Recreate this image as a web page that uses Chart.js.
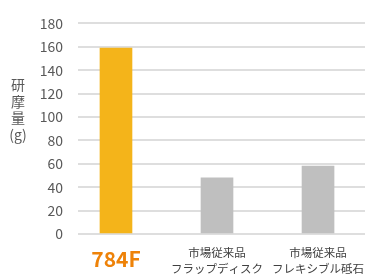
<!DOCTYPE html>
<html>
<head>
<meta charset="utf-8">
<script src="https://cdn.jsdelivr.net/npm/chart.js@4/dist/chart.umd.min.js"></script>
<style>
  html, body { margin: 0; padding: 0; background: #fff; }
  #wrap { width: 365px; height: 277px; }
</style>
</head>
<body>
<div id="wrap"><canvas id="chart"></canvas></div>
<script>
const categories = [['784F'], ['市場従来品', 'フラップディスク'], ['市場従来品', 'フレキシブル砥石']]
const values = [159, 48, 58]
const barColors = ['#F4B41A', '#BFBFBF', '#BFBFBF']
const yTicks = [0, 20, 40, 60, 80, 100, 120, 140, 160, 180]
const yTitle = ['研', '摩', '量', '(g)']

const fontJP = "'Noto Sans CJK JP', 'Noto Sans', sans-serif"

// vertical axis title, one character per line
const yTitlePlugin = {
    id: 'yTitle',
    afterDraw(chart){
        const c = chart.ctx
        c.save()
        c.fillStyle = '#595959'
        c.font = '14px ' + fontJP
        c.textAlign = 'center'
        c.textBaseline = 'middle'
        yTitle.forEach((t, i) => {
            c.fillText(t, 18, 85 + i * 16.5)
        })
        c.restore()
    }
}

const ctx = document.querySelector('#chart').getContext('2d')

new Chart(ctx, {
    type: 'bar',
    data: {
        datasets: [{
            data: values.map((v, i) => ({ x: i, y: v })),
            backgroundColor: barColors,
            barThickness: 32
        }]
    },
    options: {
        responsive: true,
        maintainAspectRatio: false,
        animation: false,
        layout: { padding: { top: 14, right: 0, left: 0, bottom: 0 } },
        plugins: {
            legend: { display: false },
            tooltip: { enabled: false }
        },
        scales: {
            x: {
                type: 'linear',
                offset: false,
                min: -0.376,
                max: 2.465,
                grid: { display: false, drawTicks: false, offset: false },
                border: { display: false },
                afterFit: scale => {
                    scale.height = 43
                    scale.paddingLeft = 0
                    scale.paddingRight = 0
                },
                ticks: {
                    stepSize: 1,
                    includeBounds: false,
                    autoSkip: false,
                    maxRotation: 0,
                    padding: 11,
                    callback: v => Number.isInteger(v) ? categories[v] : '',
                    color: c => c.tick && c.tick.value === 0 ? '#EE8208' : '#404040',
                    font: c => c.tick && c.tick.value === 0
                        ? { family: fontJP, size: 21, weight: 'bold', lineHeight: 1.35 }
                        : { family: fontJP, size: 11.5, lineHeight: 16 / 11.5 }
                }
            },
            y: {
                min: 0,
                max: 180,
                afterFit: scale => { scale.width = 78 },
                afterBuildTicks: scale => { scale.ticks = yTicks.map(v => ({ value: v })) },
                grid: { color: '#DEDEDE', lineWidth: 2, drawTicks: false },
                border: { display: false },
                ticks: {
                    padding: 15,
                    color: '#595959',
                    font: { family: fontJP, size: 14 }
                }
            }
        }
    },
    plugins: [yTitlePlugin]
})
</script>
</body>
</html>
